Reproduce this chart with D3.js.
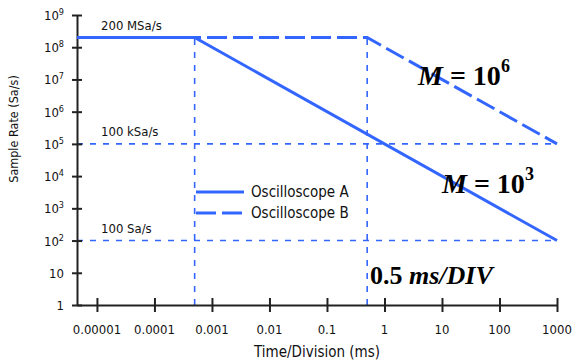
<!DOCTYPE html>
<html>
<head>
<meta charset="utf-8">
<script src="https://cdn.jsdelivr.net/npm/d3@7"></script>
<style>
  body { margin: 0; background: #fff; }
  svg { display: block; }
  .tick-label, .lbl { font-family: "DejaVu Sans Condensed", "Liberation Sans Narrow", "Roboto Condensed", sans-serif; fill: #111; }
  .ann { font-family: "Liberation Serif", "Times New Roman", serif; font-weight: bold; fill: #000; }
</style>
</head>
<body>
<svg id="chart" width="573" height="364"></svg>
<script>
// tick values
const xTicks = [0.00001, 0.0001, 0.001, 0.01, 0.1, 1, 10, 100, 1000];
const xTickLabels = ["0.00001", "0.0001", "0.001", "0.01", "0.1", "1", "10", "100", "1000"];
const yTicks = [1, 10, 1e2, 1e3, 1e4, 1e5, 1e6, 1e7, 1e8, 1e9];

// series (time/div in ms, sample rate in Sa/s)
const timeA = [4.5e-6, 0.0005, 1000];
const rateA = [2e8, 2e8, 100];
const timeB = [4.5e-6, 0.5, 1000];
const rateB = [2e8, 2e8, 1e5];

// reference lines
const refRates = [1e5, 1e2];
const refRateLabels = ["100 kSa/s", "100 Sa/s"];
const refTimes = [0.0005, 0.5];
const topRate = 2e8;
const topLabel = "200 MSa/s";

const blue = "#3366ff";

let svg = d3.select("#chart");

let x = d3.scaleLog().domain([4.5e-6, 1000]).range([77, 557]);
let y = d3.scaleLog().domain([1, 1e9]).range([305, 15]);

// dashed reference grid
svg.selectAll(".hline")
    .data(refRates)
  .enter().append("line")
    .attr("x1", x(4.5e-6)).attr("x2", x(1000))
    .attr("y1", d => y(d)).attr("y2", d => y(d))
    .attr("stroke", blue).attr("stroke-width", 1.6)
    .attr("stroke-dasharray", "6,7");

svg.selectAll(".vline")
    .data(refTimes)
  .enter().append("line")
    .attr("x1", d => x(d)).attr("x2", d => x(d))
    .attr("y1", y(1)).attr("y2", y(topRate))
    .attr("stroke", blue).attr("stroke-width", 1.6)
    .attr("stroke-dasharray", "6,7");

// axes
let yAxis = svg.append("g")
    .attr("transform", "translate(" + x(4.5e-6) + ",0)")
    .call(d3.axisLeft(y).tickValues(yTicks).tickSizeInner(5).tickSizeOuter(0).tickFormat(""));
yAxis.selectAll(".tick line").attr("x1", 5);
yAxis.selectAll("line, path").attr("stroke", "#222").attr("stroke-width", 2);

let xAxis = svg.append("g")
    .attr("transform", "translate(0," + y(1) + ")")
    .call(d3.axisBottom(x).tickValues(xTicks).tickSizeInner(7).tickSizeOuter(0).tickFormat(""));
xAxis.selectAll(".tick line").attr("y1", -7);
xAxis.selectAll("line, path").attr("stroke", "#222").attr("stroke-width", 2);

// y tick labels with superscripts
svg.selectAll(".ylab")
    .data(yTicks)
  .enter().append("text")
    .attr("class", "tick-label")
    .attr("x", 64)
    .attr("y", d => y(d) + 5)
    .attr("text-anchor", "end")
    .style("font-size", "13px")
    .each(function(d) {
      let t = d3.select(this);
      if (d < 100) { t.text(d); return; }
      t.append("tspan").text("10");
      t.append("tspan").attr("dy", -5).style("font-size", "9px").text(Math.round(Math.log10(d)));
    });

// x tick labels
svg.selectAll(".xlab")
    .data(xTicks)
  .enter().append("text")
    .attr("class", "tick-label")
    .attr("x", d => x(d))
    .attr("y", 334)
    .attr("text-anchor", "middle")
    .style("font-size", "13px")
    .text((d, i) => xTickLabels[i]);

// axis titles
svg.append("text")
    .attr("class", "lbl")
    .attr("transform", "translate(18,129) rotate(-90)")
    .attr("text-anchor", "middle")
    .style("font-size", "12.5px")
    .text("Sample Rate (Sa/s)");

svg.append("text")
    .attr("class", "lbl")
    .attr("x", 317).attr("y", 357)
    .attr("text-anchor", "middle")
    .style("font-size", "15px")
    .text("Time/Division (ms)");

// series lines
let line = d3.line()
    .x(d => x(d[0]))
    .y(d => y(d[1]));

svg.append("path")
    .datum(timeB.map((t, i) => [t, rateB[i]]))
    .attr("fill", "none").attr("stroke", blue).attr("stroke-width", 3)
    .attr("stroke-dasharray", "20,6")
    .attr("d", line);

svg.append("path")
    .datum(timeA.map((t, i) => [t, rateA[i]]))
    .attr("fill", "none").attr("stroke", blue).attr("stroke-width", 3)
    .attr("d", line);

// rate labels
svg.append("text").attr("class", "lbl")
    .attr("x", 101).attr("y", y(topRate) - 8)
    .style("font-size", "13px").text(topLabel);
svg.selectAll(".rlab")
    .data(refRates)
  .enter().append("text")
    .attr("class", "lbl")
    .attr("x", 101).attr("y", d => y(d) - 8)
    .style("font-size", "13px")
    .text((d, i) => refRateLabels[i]);

// legend
const legendNames = ["Oscilloscope A", "Oscilloscope B"];
const legendDash = [null, "20,6"];
let legend = svg.selectAll(".leg")
    .data(legendNames)
  .enter().append("g")
    .attr("transform", (d, i) => "translate(196," + (192 + i * 21) + ")");
legend.append("line")
    .attr("x1", 0).attr("x2", 48)
    .attr("stroke", blue).attr("stroke-width", 3)
    .attr("stroke-dasharray", (d, i) => legendDash[i]);
legend.append("text")
    .attr("class", "lbl")
    .attr("x", 55).attr("y", 5)
    .style("font-size", "15px")
    .text(d => d);

// annotations
function mLabel(px, py, exp) {
  let t = svg.append("text").attr("class", "ann")
      .attr("x", px).attr("y", py)
      .style("font-size", "28px");
  t.append("tspan").style("font-style", "italic").text("M");
  t.append("tspan").text(" = 10");
  t.append("tspan").attr("dy", -13).style("font-size", "18px").text(exp);
}
mLabel(418, 85, "6");
mLabel(442, 193, "3");

let ms = svg.append("text").attr("class", "ann")
    .attr("x", 370).attr("y", 284)
    .style("font-size", "26px");
ms.append("tspan").text("0.5 ");
ms.append("tspan").style("font-style", "italic").text("ms/DIV");
</script>
</body>
</html>
